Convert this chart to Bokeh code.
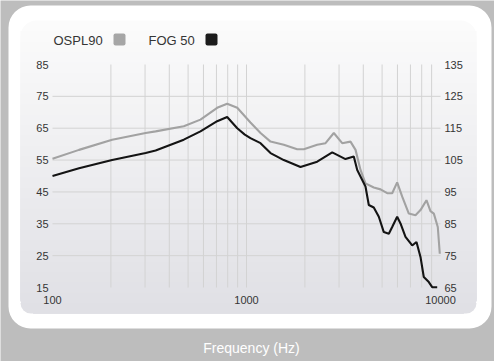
import math
from bokeh.plotting import figure
from bokeh.models import Range1d, BoxAnnotation, Label, Grid
from bokeh.core.properties import value
from bokeh.embed import file_html
from bokeh.resources import INLINE

# ---- data ----
freq_ospl = [100, 137, 203, 302, 340, 475, 579, 706, 795, 896, 1048, 1181, 1330, 1557,
             1825, 1974, 2314, 2555, 2819, 3114, 3436, 3648, 3870, 4105, 4530, 4908,
             5311, 5636, 5979, 6348, 6867, 7432, 7886, 8466, 8878, 9240, 9683, 9916]
ospl90 = [105.4, 108.2, 111.4, 113.5, 114.0, 115.6, 117.7, 121.4, 122.7, 121.4, 116.8,
          113.5, 110.8, 109.8, 108.4, 108.4, 109.8, 110.3, 113.5, 110.3, 110.8, 108.2,
          101.9, 97.7, 96.4, 95.8, 94.6, 94.6, 98.0, 93.5, 88.2, 87.7, 89.3, 92.4, 89.0,
          88.2, 84.0, 75.6]
freq_fog = [100, 137, 203, 302, 340, 475, 579, 706, 795, 896, 980, 1048, 1181, 1330, 1557,
            1898, 2314, 2766, 3237, 3573, 3722, 4105, 4270, 4530, 4809, 5102, 5415, 5636,
            5979, 6220, 6600, 7147, 7520, 7886, 8200, 8705, 9060, 9616]
fog50 = [50.0, 52.4, 55.0, 57.2, 58.0, 61.4, 64.0, 67.2, 68.5, 65.0, 63.0, 61.9, 60.3,
         57.2, 55.0, 52.8, 54.5, 57.4, 55.3, 56.1, 51.9, 46.7, 40.9, 40.1, 37.2, 32.4,
         31.9, 34.0, 37.2, 35.1, 30.9, 28.2, 29.3, 24.6, 18.3, 16.7, 15.1, 15.1]

x_ticks = [100, 1000, 10000]
x_grid = [200, 300, 400, 500, 600, 700, 800, 900,
          1000, 2000, 3000, 4000, 5000, 6000, 7000, 8000, 9000]
left_ticks = [15, 25, 35, 45, 55, 65, 75, 85]
right_ticks = [65, 75, 85, 95, 105, 115, 125, 135]
grid_y = [25, 35, 45, 55, 65, 75]
series_names = ["OSPL90", "FOG 50"]
x_title = "Frequency (Hz)"

# ---- layout constants (pixels) ----
W, H = 494, 361
PX_L, PX_R, PX_T, PX_B = 52, 440, 64, 287
FONT = "Liberation Sans"
BG = "#bdbdbd"
TXT = "#353535"

decade_px = (PX_R - PX_L) / math.log10(x_ticks[-1] / x_ticks[0])
x_start = x_ticks[0] * 10 ** (-PX_L / decade_px)
x_end = x_ticks[-1] * 10 ** ((W - PX_R) / decade_px)
unit_px = (PX_B - PX_T) / (left_ticks[-1] - left_ticks[0])
y_start = left_ticks[0] - (H - PX_B) / unit_px
y_end = left_ticks[-1] + PX_T / unit_px
r_start = right_ticks[0] - (H - PX_B) / unit_px
r_end = right_ticks[-1] + PX_T / unit_px

p = figure(width=W, height=H, x_axis_type="log",
           x_range=Range1d(x_start, x_end), y_range=Range1d(y_start, y_end),
           x_axis_location=None, y_axis_location=None,
           output_backend="svg", toolbar_location=None, min_border=0)
p.center = [r for r in p.center if not isinstance(r, Grid)]
p.border_fill_color = BG
p.background_fill_color = BG
p.outline_line_color = None
p.extra_y_ranges = {"r": Range1d(r_start, r_end)}

# ---- panels (decoration) ----
def box(l, r, t, b, color, radius, level="image"):
    bx = BoxAnnotation(left=l, right=r, top=t, bottom=b,
                       left_units="canvas", right_units="canvas",
                       top_units="canvas", bottom_units="canvas",
                       fill_color=color, fill_alpha=1.0, line_color=None,
                       border_radius=radius, level=level)
    p.add_layout(bx)

box(8, 491, 5, 328, "#ffffff", 22)
top_c = (251, 251, 251)
bot_c = (224, 224, 229)
n = 28
y0, y1 = 20, 313
for i in range(n):
    t = i / (n - 1)
    c = tuple(int(round(top_c[k] + (bot_c[k] - top_c[k]) * t)) for k in range(3))
    col = "#%02x%02x%02x" % c
    yt = y0 + (y1 - y0) * i / n
    rad = 16 if i == 0 else (0, 0, 16, 16)
    box(20, 476, yt, y1, col, rad)

# ---- grid lines ----
GRID = "#d3d3d3"
p.segment(x0=x_grid, x1=x_grid, y0=[left_ticks[0]] * len(x_grid),
          y1=[left_ticks[-1]] * len(x_grid), line_color=GRID, line_width=1)
p.segment(x0=[x_ticks[0]] * len(grid_y), x1=[x_ticks[-1]] * len(grid_y),
          y0=grid_y, y1=grid_y, line_color=GRID, line_width=1)

# ---- lines ----
p.line(freq_ospl, ospl90, y_range_name="r", line_color="#a2a2a2", line_width=2.1)
p.line(freq_fog, fog50, line_color="#141414", line_width=2.1)

# ---- tick labels ----
tick_style = dict(text_font=value(FONT), text_font_size=value("11px"), text_color=TXT)
p.text(x=[x_ticks[0]] * len(left_ticks), y=left_ticks, text=[str(v) for v in left_ticks],
       x_offset=-4, text_align="right", text_baseline="middle", **tick_style)
p.text(x=[x_ticks[-1]] * len(right_ticks), y=right_ticks, text=[str(v) for v in right_ticks],
       y_range_name="r", x_offset=4, text_align="left", text_baseline="middle", **tick_style)
p.text(x=x_ticks, y=[left_ticks[0]] * len(x_ticks), text=[str(v) for v in x_ticks],
       y_offset=12, text_align="center", text_baseline="middle", **tick_style)

# ---- legend ----
p.add_layout(Label(x=53, y=40, x_units="canvas", y_units="canvas", text=series_names[0],
                   text_font=FONT, text_font_size="13px", text_color=TXT,
                   text_baseline="middle"))
box(113, 125, 33, 45, "#a6a6a6", 2, level="overlay")
p.add_layout(Label(x=148, y=40, x_units="canvas", y_units="canvas", text=series_names[1],
                   text_font=FONT, text_font_size="13px", text_color=TXT,
                   text_baseline="middle"))
box(205, 217, 33, 45, "#1c1c1c", 2, level="overlay")

# ---- x title ----
p.add_layout(Label(x=251, y=347, x_units="canvas", y_units="canvas", text=x_title,
                   text_font=FONT, text_font_size="14px", text_color="#ffffff",
                   text_align="center", text_baseline="middle"))

open("out.html", "w").write(file_html(p, INLINE))
